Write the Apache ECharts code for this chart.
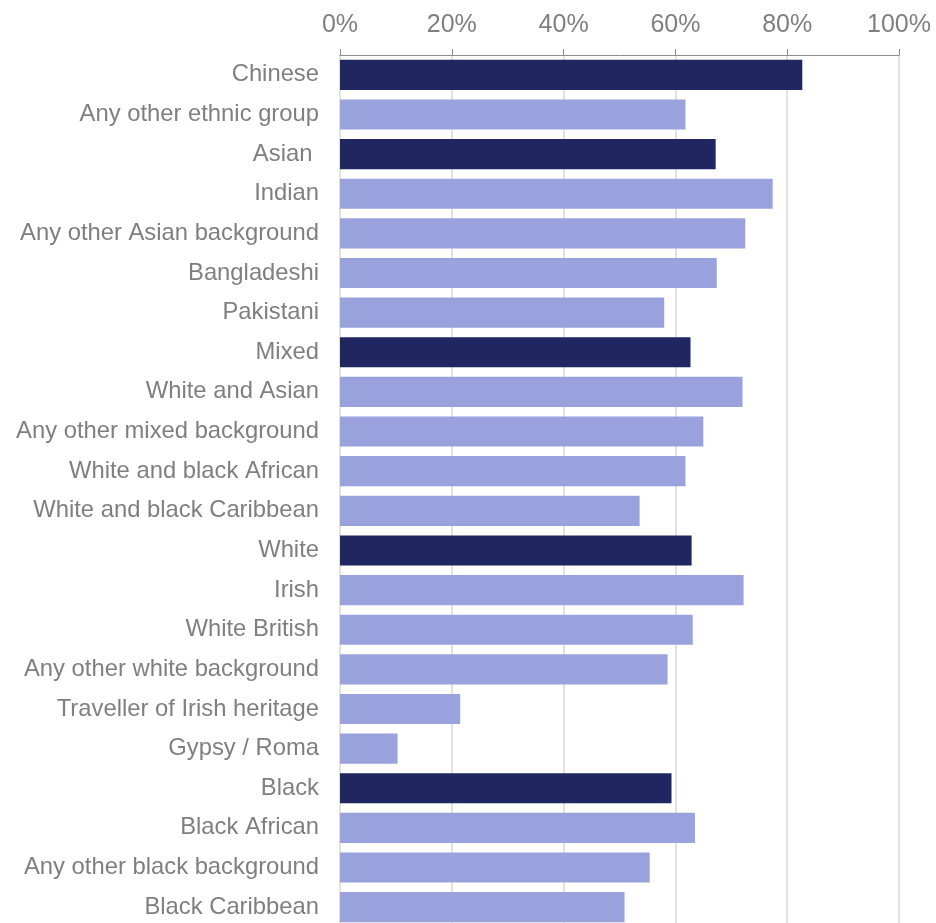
<!DOCTYPE html>
<html>
<head>
<meta charset="utf-8">
<script src="https://cdn.jsdelivr.net/npm/echarts@6/dist/echarts.min.js"></script>
<style>
html,body{margin:0;padding:0;background:#fff;overflow:hidden;}
#chart{width:936px;height:932px;}
</style>
</head>
<body>
<div id="chart"></div>
<script>
const categories = [
  "Chinese", "Any other ethnic group", "Asian ", "Indian", "Any other Asian background",
  "Bangladeshi", "Pakistani", "Mixed", "White and Asian", "Any other mixed background",
  "White and black African", "White and black Caribbean", "White", "Irish", "White British",
  "Any other white background", "Traveller of Irish heritage", "Gypsy / Roma", "Black",
  "Black African", "Any other black background", "Black Caribbean"
];
const values = [
  82.7, 61.8, 67.2, 77.4, 72.5,
  67.4, 58.0, 62.7, 72.0, 65.0,
  61.8, 53.6, 62.9, 72.2, 63.1,
  58.6, 21.5, 10.3, 59.3,
  63.5, 55.4, 50.9
];
const isGroup = [
  true, false, true, false, false,
  false, false, true, false, false,
  false, false, true, false, false,
  false, false, false, true,
  false, false, false
];
const tickLabels = ["0%", "20%", "40%", "60%", "80%", "100%"];

const chart = echarts.init(document.getElementById('chart'));
const font = "Arial";
chart.setOption({
  animation: false,
  grid: { left: 340, right: 37, top: 55, height: 872, containLabel: false },
  xAxis: {
    type: 'value', position: 'top', min: 0, max: 100, interval: 20,
    axisLine: { show: true, lineStyle: { color: '#8c8c8c', width: 1 } },
    axisTick: { show: true, length: 6, lineStyle: { color: '#8c8c8c' } },
    splitLine: { show: true, lineStyle: { color: '#d9d9d9', width: 1.5 } },
    axisLabel: {
      color: '#7f7f7f', fontSize: 25, fontFamily: font, margin: 17,
      formatter: (v) => tickLabels[Math.round(v / 20)]
    }
  },
  yAxis: {
    type: 'category', inverse: true, data: categories,
    axisLine: { show: false }, axisTick: { show: false }, splitLine: { show: false },
    axisLabel: { color: '#7f7f7f', fontSize: 23.8, fontFamily: font, margin: 21, padding: [4, 0, 0, 0] }
  },
  series: [{
    type: 'bar', barCategoryGap: '24%',
    data: values.map((v, i) => ({
      value: v,
      itemStyle: { color: isGroup[i] ? '#1f2660' : '#99a2dd' }
    }))
  }]
});
</script>
</body>
</html>
